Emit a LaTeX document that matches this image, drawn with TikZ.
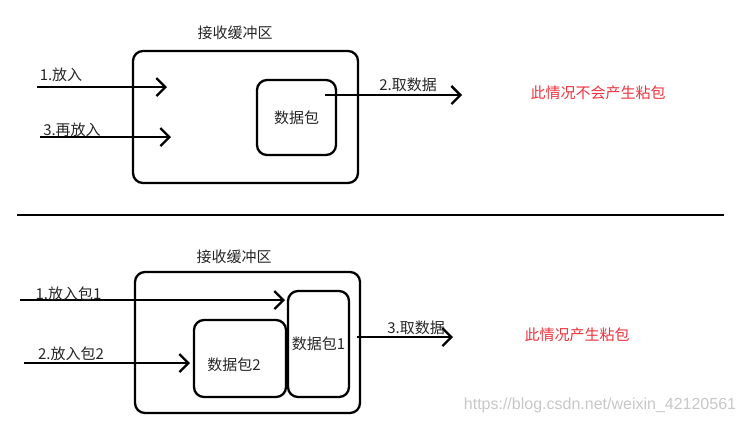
\documentclass[tikz,border=0pt]{standalone}
\usepackage{fontspec}
\setmainfont{Noto Sans CJK SC}
\newfontfamily\wmfont{Liberation Sans}
\usetikzlibrary{arrows.meta}
\definecolor{notered}{RGB}{240,50,60}
\begin{document}
\begin{tikzpicture}[x=1pt,y=-1pt,
  box/.style={draw, line width=2.3pt, rounded corners=10pt, inner sep=0pt,
    font=\fontsize{15}{18}\selectfont, text=black!85},
  flow/.style={line width=2.3pt, -{Straight Barb[length=9pt,width=18pt,line width=2.3pt]}},
  lbl/.style={font=\fontsize{15}{18}\selectfont, text=black!85, inner sep=0pt},
  note/.style={font=\fontsize{15}{18}\selectfont, text=notered, inner sep=0pt}]
\useasboundingbox (0,0) rectangle (744,424);
% ---------- top ----------
\node[lbl] (t1title) at (235,33) {接收缓冲区};
\node[box, minimum width=225pt, minimum height=132pt] (tbuf) at (245.5,117) {};
\node[box, minimum width=79pt, minimum height=75pt] (tpkt) at (296.5,117.5) {数据包};
\coordinate (ta1s) at (37,87);  \coordinate (ta1e) at (167,87);
\coordinate (ta3s) at (40,137); \coordinate (ta3e) at (171,137);
\coordinate (ta2s) at (325,95); \coordinate (ta2e) at (462,95);
\draw[flow] (ta1s) -- (ta1e);
\draw[flow] (ta3s) -- (ta3e);
\draw[flow] (ta2s) -- (ta2e);
\node[lbl] (tl1) at (61,75) {1.放入};
\node[lbl] (tl3) at (72,130) {3.再放入};
\node[lbl] (tl2) at (408,85) {2.取数据};
\node[note] (tnote) at (598,93) {此情况不会产生粘包};
% ---------- separator ----------
\coordinate (sepl) at (17,215); \coordinate (sepr) at (724,215);
\draw[line width=2.3pt] (sepl) -- (sepr);
% ---------- bottom ----------
\node[lbl] (b1title) at (234,257) {接收缓冲区};
\node[box, minimum width=225pt, minimum height=141pt] (bbuf) at (247.5,342.5) {};
\node[box, minimum width=61pt, minimum height=106pt] (bpkt1) at (318.5,344) {数据包1};
\node[box, minimum width=92pt, minimum height=77pt] (bpkt2) at (240,358.5) {};
\node[lbl] (bpkt2t) at (234,365) {数据包2};
\coordinate (ba1s) at (20,300);  \coordinate (ba1e) at (285,300);
\coordinate (ba2s) at (24,363);  \coordinate (ba2e) at (190,363);
\coordinate (ba3s) at (357,337); \coordinate (ba3e) at (453,337);
\draw[flow] (ba1s) -- (ba1e);
\draw[flow] (ba2s) -- (ba2e);
\draw[flow] (ba3s) -- (ba3e);
\node[lbl] (bl1) at (68.5,294) {1.放入包1};
\node[lbl] (bl2) at (71,354) {2.放入包2};
\node[lbl] (bl3) at (416,328) {3.取数据};
\node[note] (bnote) at (577,335) {此情况产生粘包};
\node[inner sep=0pt, text=black!22, font=\wmfont\fontsize{16}{19}\selectfont] (wm) at (600,405) {https://blog.csdn.net/weixin\_42120561};
\end{tikzpicture}
\end{document}
